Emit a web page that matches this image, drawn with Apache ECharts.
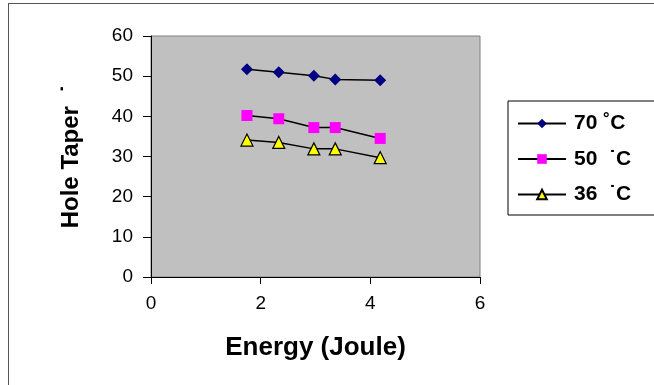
<!DOCTYPE html>
<html>
<head>
<meta charset="utf-8">
<script src="https://cdn.jsdelivr.net/npm/echarts@6/dist/echarts.min.js"></script>
<style>
  html, body { margin: 0; padding: 0; background: #fff; }
  #chart { width: 654px; height: 385px; }
</style>
</head>
<body>
<div id="chart"></div>
<script>
// energy values (Joule) shared by all three curves
var energy = [1.75, 2.33, 2.97, 3.36, 4.18];
var taper70 = [51.7, 51.0, 50.1, 49.2, 49.0];
var taper50 = [40.2, 39.4, 37.2, 37.2, 34.5];
var taper36 = [34.1, 33.5, 31.9, 31.9, 29.7];
var seriesNames = ['70 ˚C', '50  ˙C', '36  ˙C'];

function pairs(ys) {
    var out = [];
    for (var i = 0; i < ys.length; i++) {
        out.push([energy[i], ys[i]]);
    }
    return out;
}

var font = 'Liberation Sans, Arial, sans-serif';
var myChart = echarts.init(document.getElementById('chart'));
var option = {
    animation: false,
    backgroundColor: '#fff',
    textStyle: {fontFamily: font},
    graphic: [
        {type: 'line', shape: {x1: 8.5, y1: 3, x2: 8.5, y2: 385}, style: {stroke: '#555', lineWidth: 1}},
        {type: 'line', shape: {x1: 8, y1: 3.5, x2: 654, y2: 3.5}, style: {stroke: '#555', lineWidth: 1}}
    ],
    grid: {
        left: 151, right: 174, top: 36, bottom: 108,
        show: true,
        backgroundColor: '#C0C0C0',
        borderColor: '#808080',
        borderWidth: 1
    },
    legend: {
        orient: 'vertical',
        left: 508, top: 101,
        width: 160,
        padding: [12, 40, 10, 9],
        itemGap: 14.5,
        itemWidth: 48,
        itemHeight: 12,
        borderColor: '#000',
        borderWidth: 1,
        backgroundColor: '#fff',
        textStyle: {fontSize: 21, fontWeight: 'bold', color: '#000', fontFamily: font, padding: [0, 0, 0, 3]},
        data: seriesNames
    },
    xAxis: {
        type: 'value',
        min: 0, max: 6, interval: 2,
        name: 'Energy (Joule)',
        nameLocation: 'middle',
        nameGap: 58,
        nameTextStyle: {fontSize: 26, fontWeight: 'bold', color: '#000'},
        axisLine: {lineStyle: {color: '#000', width: 1}},
        axisTick: {show: true, length: 7, lineStyle: {color: '#000'}},
        axisLabel: {fontSize: 19, color: '#000', margin: 17},
        splitLine: {show: false}
    },
    yAxis: {
        type: 'value',
        min: 0, max: 60, interval: 10,
        name: 'Hole Taper  ˙',
        nameLocation: 'middle',
        nameGap: 68,
        nameTextStyle: {fontSize: 24, fontWeight: 'bold', color: '#000'},
        axisLine: {show: true, lineStyle: {color: '#000', width: 1}},
        axisTick: {show: true, length: 8, lineStyle: {color: '#000'}},
        axisLabel: {fontSize: 19, color: '#000', margin: 18},
        splitLine: {show: false}
    },
    series: [
        {
            name: seriesNames[0], type: 'line', data: pairs(taper70),
            symbol: 'diamond', symbolSize: 12,
            itemStyle: {color: '#000080'},
            lineStyle: {color: '#000', width: 1.5}
        },
        {
            name: seriesNames[1], type: 'line', data: pairs(taper50),
            symbol: 'rect', symbolSize: 11,
            itemStyle: {color: '#FF00FF'},
            lineStyle: {color: '#000', width: 1.5}
        },
        {
            name: seriesNames[2], type: 'line', data: pairs(taper36),
            symbol: 'triangle', symbolSize: 12,
            itemStyle: {color: '#FFFF00', borderColor: '#000', borderWidth: 1.2},
            lineStyle: {color: '#000', width: 1.5}
        }
    ]
};
myChart.setOption(option);
</script>
</body>
</html>
